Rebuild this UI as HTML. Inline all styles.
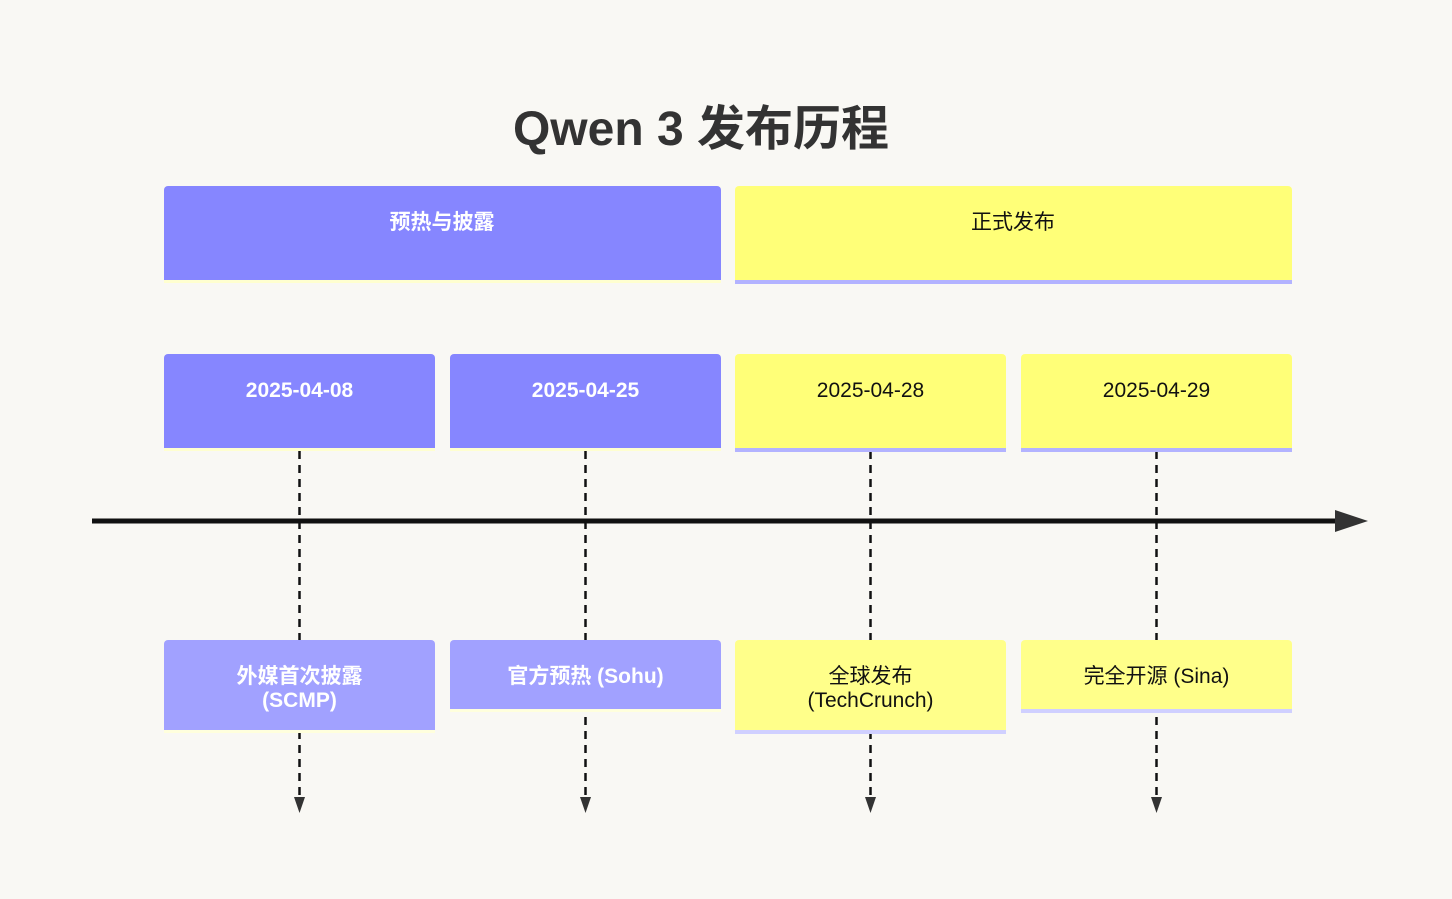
<!DOCTYPE html>
<html><head><meta charset="utf-8"><style>
html,body{margin:0;padding:0;background:#f9f8f4;}
svg{display:block;}
text{font-family:"Liberation Sans","Noto Sans CJK SC",sans-serif;}
.w{font-weight:600;}
</style></head><body>
<svg width="1452" height="899" viewBox="0 0 1452 899">
<rect width="1452" height="899" fill="#f9f8f4"/>
<text x="701" y="145" text-anchor="middle" font-size="48" font-weight="bold" fill="#333">Qwen 3 发布历程</text>

<rect x="164" y="276" width="557" height="7" fill="#ffffd0"/>
<rect x="164" y="186" width="557" height="94" rx="4" fill="#8686ff"/>
<rect x="164" y="270" width="557" height="10" fill="#8686ff"/>
<text class="w" x="442" y="229" text-anchor="middle" font-size="21" fill="#fff">预热与披露</text>

<rect x="735" y="276" width="557" height="8" fill="#b3b3ff"/>
<rect x="735" y="186" width="557" height="94" rx="4" fill="#ffff78"/>
<rect x="735" y="270" width="557" height="10" fill="#ffff78"/>
<text x="1013" y="229" text-anchor="middle" font-size="21" fill="#111">正式发布</text>

<g stroke="#111" stroke-width="2.5" stroke-dasharray="8,6">
<line x1="299.5" y1="451" x2="299.5" y2="800"/>
<line x1="585.5" y1="451" x2="585.5" y2="800"/>
<line x1="870.5" y1="451" x2="870.5" y2="800"/>
<line x1="1156.5" y1="451" x2="1156.5" y2="800"/>
</g>
<g fill="#333">
<polygon points="294,797 305,797 299.5,813"/>
<polygon points="580,797 591,797 585.5,813"/>
<polygon points="865,797 876,797 870.5,813"/>
<polygon points="1151,797 1162,797 1156.5,813"/>
</g>

<g>
<rect x="164" y="444" width="271" height="7" fill="#ffffd0"/>
<rect x="164" y="354" width="271" height="94" rx="4" fill="#8686ff"/>
<rect x="164" y="440" width="271" height="8" fill="#8686ff"/>
<text class="w" x="299.5" y="397" text-anchor="middle" font-size="21" fill="#fff">2025-04-08</text>

<rect x="450" y="444" width="271" height="7" fill="#ffffd0"/>
<rect x="450" y="354" width="271" height="94" rx="4" fill="#8686ff"/>
<rect x="450" y="440" width="271" height="8" fill="#8686ff"/>
<text class="w" x="585.5" y="397" text-anchor="middle" font-size="21" fill="#fff">2025-04-25</text>

<rect x="735" y="444" width="271" height="8" fill="#b3b3ff"/>
<rect x="735" y="354" width="271" height="94" rx="4" fill="#ffff78"/>
<rect x="735" y="440" width="271" height="8" fill="#ffff78"/>
<text x="870.5" y="397" text-anchor="middle" font-size="21" fill="#111">2025-04-28</text>

<rect x="1021" y="444" width="271" height="8" fill="#b3b3ff"/>
<rect x="1021" y="354" width="271" height="94" rx="4" fill="#ffff78"/>
<rect x="1021" y="440" width="271" height="8" fill="#ffff78"/>
<text x="1156.5" y="397" text-anchor="middle" font-size="21" fill="#111">2025-04-29</text>
</g>

<line x1="92" y1="521" x2="1340" y2="521" stroke="#111" stroke-width="5"/>
<polygon points="1335,510 1368,521 1335,532" fill="#333"/>

<g>
<rect x="164" y="726" width="271" height="7" fill="#ffffdd"/>
<rect x="164" y="640" width="271" height="90" rx="4" fill="#a1a1ff"/>
<rect x="164" y="720" width="271" height="10" fill="#a1a1ff"/>
<text class="w" x="299.5" y="683" text-anchor="middle" font-size="21" fill="#fff">外媒首次披露</text>
<text class="w" x="299.5" y="707" text-anchor="middle" font-size="21" fill="#fff">(SCMP)</text>

<rect x="450" y="705" width="271" height="7" fill="#ffffdd"/>
<rect x="450" y="640" width="271" height="69" rx="4" fill="#a1a1ff"/>
<rect x="450" y="700" width="271" height="9" fill="#a1a1ff"/>
<text class="w" x="585.5" y="683" text-anchor="middle" font-size="21" fill="#fff">官方预热 (Sohu)</text>

<rect x="735" y="726" width="271" height="8" fill="#d0d0ff"/>
<rect x="735" y="640" width="271" height="90" rx="4" fill="#ffff8a"/>
<rect x="735" y="720" width="271" height="10" fill="#ffff8a"/>
<text x="870.5" y="683" text-anchor="middle" font-size="21" fill="#111">全球发布</text>
<text x="870.5" y="707" text-anchor="middle" font-size="21" fill="#111">(TechCrunch)</text>

<rect x="1021" y="705" width="271" height="8" fill="#d0d0ff"/>
<rect x="1021" y="640" width="271" height="69" rx="4" fill="#ffff8a"/>
<rect x="1021" y="700" width="271" height="9" fill="#ffff8a"/>
<text x="1156.5" y="683" text-anchor="middle" font-size="21" fill="#111">完全开源 (Sina)</text>
</g>
</svg>
</body></html>
